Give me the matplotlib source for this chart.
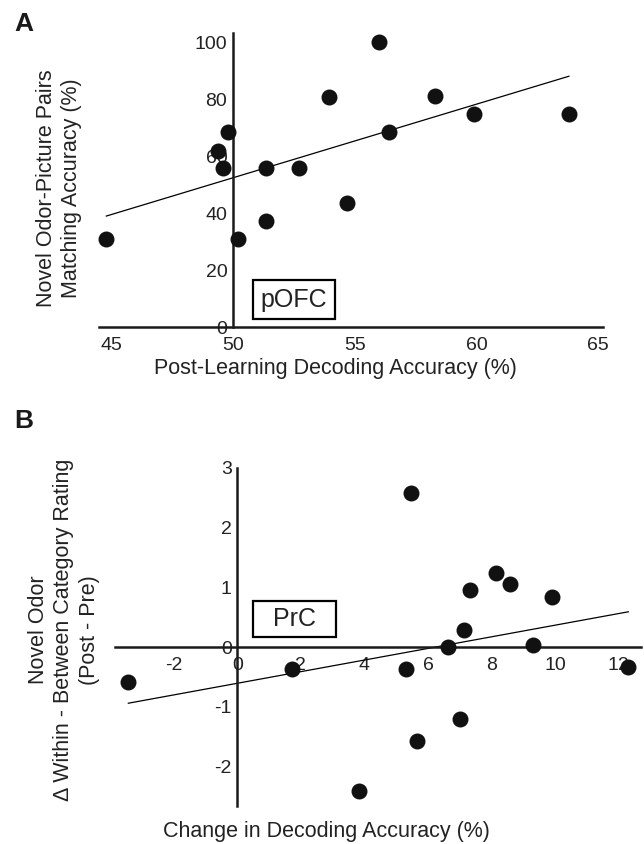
import numpy as np
import matplotlib.pyplot as plt

plt.rcParams['font.family'] = ['Liberation Sans', 'DejaVu Sans']
plt.rcParams['axes.unicode_minus'] = False

# Panel A: pOFC
pofc_x = [44.8, 49.4, 49.6, 49.8, 50.2, 51.35, 51.35, 52.7, 53.95, 56.0, 54.7, 56.4, 58.3, 59.9, 63.8]
pofc_y = [31, 62, 56, 68.5, 31, 56, 37.3, 56, 80.8, 100, 43.6, 68.5, 81.2, 74.9, 74.9]
a_xticks = [45, 50, 55, 60, 65]
a_yticks = [0, 20, 40, 60, 80, 100]

# Panel B: PrC
prc_x = [-3.43, 1.73, 5.47, 5.31, 5.66, 3.84, 6.63, 7.14, 7.01, 7.33, 8.14, 8.58, 9.9, 9.31, 12.3]
prc_y = [-0.59, -0.37, 2.58, -0.37, -1.57, -2.41, 0.0, 0.29, -1.21, 0.96, 1.24, 1.06, 0.83, 0.04, -0.34]
b_xticks = [-2, 0, 2, 4, 6, 8, 10, 12]
b_yticks = [-2, -1, 0, 1, 2, 3]

W, H = 644, 844
fig = plt.figure(figsize=(W / 100, H / 100), dpi=100)


def px_axes(x0, x1, y0, y1):
    # pixel box -> figure axes
    return fig.add_axes([x0 / W, 1 - y1 / H, (x1 - x0) / W, (y1 - y0) / H])


def style(ax, xcross, ycross):
    for s in ['top', 'right']:
        ax.spines[s].set_visible(False)
    ax.spines['left'].set_position(('data', xcross))
    ax.spines['bottom'].set_position(('data', ycross))
    for s in ['left', 'bottom']:
        ax.spines[s].set_linewidth(1.8)
        ax.spines[s].set_color('#1a1a1a')
    ax.tick_params(length=0, labelsize=14, colors='#222222')
    ax.tick_params(axis='x', pad=7)
    ax.tick_params(axis='y', pad=4)
    ax.patch.set_alpha(0)


def fit_line(ax, x, y):
    x = np.array(x)
    m, b = np.polyfit(x, np.array(y), 1)
    xs = np.array([x.min(), x.max()])
    ax.plot(xs, m * xs + b, color='black', lw=0.9)


# ---- A ----
axA = px_axes(99, 603, 32.5, 327)
axA.set_xlim(44.5, 65.2)
axA.set_ylim(0, 103.5)
style(axA, 50, 0)
axA.set_xticks(a_xticks)
axA.set_yticks(a_yticks)
fit_line(axA, pofc_x, pofc_y)
axA.scatter(pofc_x, pofc_y, s=110, color='#111111', zorder=3, clip_on=False)
axA.text(52.5, 9.5, 'pOFC', fontsize=18, ha='center', va='center', color='#222222',
         bbox=dict(boxstyle='square,pad=0.3', fc='white', ec='black', lw=1.6))
fig.text(335 / W, 1 - 368 / H, 'Post-Learning Decoding Accuracy (%)', fontsize=15.5,
         ha='center', va='center', color='#222222')
fig.text(59 / W, 1 - 188 / H, 'Novel Odor-Picture Pairs\nMatching Accuracy (%)', fontsize=15.5,
         ha='center', va='center', rotation=90, linespacing=1.2, color='#222222')
fig.text(14 / W, 1 - 31 / H, 'A', fontsize=19, fontweight='bold', va='baseline', color='#1a1a1a')

# ---- B ----
axB = px_axes(115, 641, 467.7, 805.5)
axB.set_xlim(-3.85, 12.7)
axB.set_ylim(-2.65, 2.98)
style(axB, 0, 0)
axB.set_xticks(b_xticks)
axB.set_yticks(b_yticks)
fit_line(axB, prc_x, prc_y)
axB.scatter(prc_x, prc_y, s=110, color='#111111', zorder=3, clip_on=False)
axB.text(1.8, 0.47, '  PrC  ', fontsize=18, ha='center', va='center', color='#222222',
         bbox=dict(boxstyle='square,pad=0.25', fc='white', ec='black', lw=1.6))
fig.text(326 / W, 1 - 832 / H, 'Change in Decoding Accuracy (%)', fontsize=15.5,
         ha='center', va='center', color='#222222')
fig.text(64 / W, 1 - 630 / H, 'Novel Odor\n\u0394 Within - Between Category Rating\n(Post - Pre)',
         fontsize=15.5, ha='center', va='center', rotation=90, linespacing=1.25, color='#222222')
fig.text(14 / W, 1 - 428 / H, 'B', fontsize=19, fontweight='bold', va='baseline', color='#1a1a1a')

fig.savefig('out.png', dpi=100)
